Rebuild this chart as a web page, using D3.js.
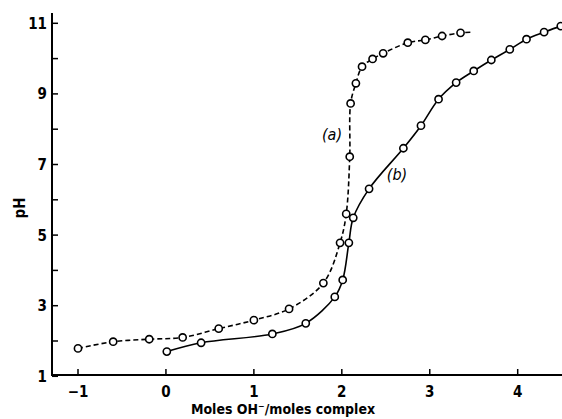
<!DOCTYPE html>
<html>
<head>
<meta charset="utf-8">
<script src="https://cdn.jsdelivr.net/npm/d3@7"></script>
<style>
  body { margin: 0; background: #fff; }
  svg { font-family: "DejaVu Sans Condensed", "DejaVu Sans", sans-serif; }
</style>
</head>
<body>
<div id="chart"></div>
<script>
// curve (a), dashed
const aX = [-1.00, -0.60, -0.19, 0.19, 0.60, 1.00, 1.40, 1.79, 1.98, 2.05, 2.09, 2.10, 2.16, 2.23, 2.35, 2.47, 2.75, 2.95, 3.14, 3.35];
const aY = [1.79, 1.98, 2.05, 2.10, 2.35, 2.59, 2.91, 3.64, 4.78, 5.60, 7.22, 8.73, 9.30, 9.77, 9.99, 10.15, 10.45, 10.53, 10.64, 10.73];
const aEnd = [3.48, 10.75];

// curve (b), solid
const bX = [0.01, 0.40, 1.21, 1.59, 1.92, 2.01, 2.08, 2.13, 2.31, 2.70, 2.90, 3.10, 3.30, 3.50, 3.70, 3.91, 4.10, 4.30, 4.49];
const bY = [1.70, 1.95, 2.20, 2.50, 3.25, 3.73, 4.78, 5.49, 6.31, 7.46, 8.10, 8.85, 9.32, 9.65, 9.96, 10.26, 10.55, 10.75, 10.92];
const bEnd = [4.60, 11.0];

const xTicks = [-1, 0, 1, 2, 3, 4];
const yMajor = [1, 3, 5, 7, 9, 11];
const yMinor = [2, 4, 6, 8, 10];

const width = 562, height = 419;

const svg = d3.select("#chart").append("svg")
  .attr("width", width)
  .attr("height", height);

const x = d3.scaleLinear().domain([-1, 4]).range([78, 517.7]);
const y = d3.scaleLinear().domain([1, 11]).range([376.3, 23.3]);

const axisY = 375, axisX = 52;

// axes lines
svg.append("line")
  .attr("x1", axisX).attr("x2", width)
  .attr("y1", axisY).attr("y2", axisY)
  .attr("stroke", "#000").attr("stroke-width", 2);
svg.append("line")
  .attr("x1", axisX).attr("x2", axisX)
  .attr("y1", 13).attr("y2", axisY + 1)
  .attr("stroke", "#000").attr("stroke-width", 2);

// x ticks (inward)
svg.selectAll(".xt").data(xTicks).enter().append("line")
  .attr("x1", d => x(d)).attr("x2", d => x(d))
  .attr("y1", axisY).attr("y2", axisY - 6)
  .attr("stroke", "#000").attr("stroke-width", 1.5);
svg.selectAll(".xl").data(xTicks).enter().append("text")
  .attr("x", d => x(d)).attr("y", 397)
  .attr("text-anchor", "middle")
  .attr("font-size", 15).attr("font-weight", "bold")
  .text(d => d < 0 ? "\u2212" + Math.abs(d) : d);

// y ticks
svg.selectAll(".yt").data(yMajor.concat(yMinor)).enter().append("line")
  .attr("x1", axisX).attr("x2", axisX + 6)
  .attr("y1", d => y(d)).attr("y2", d => y(d))
  .attr("stroke", "#000").attr("stroke-width", 1.5);
svg.selectAll(".yl").data(yMajor).enter().append("text")
  .attr("x", 47).attr("y", d => y(d) + 5.5)
  .attr("text-anchor", "end")
  .attr("font-size", 15).attr("font-weight", "bold")
  .text(d => d);

// axis titles
svg.append("text")
  .attr("transform", "translate(25,208) rotate(-90)")
  .attr("text-anchor", "middle")
  .attr("font-size", 15).attr("font-weight", "bold")
  .text("pH");
svg.append("text")
  .attr("x", 283).attr("y", 414)
  .attr("text-anchor", "middle")
  .attr("font-size", 14).attr("font-weight", "bold")
  .text("Moles OH\u207B/moles complex");

const line = d3.line()
  .x(d => x(d[0]))
  .y(d => y(d[1]))
  .curve(d3.curveCatmullRom.alpha(0.5));

const aPts = aX.map((v, i) => [v, aY[i]]);
const bPts = bX.map((v, i) => [v, bY[i]]);

svg.append("path")
  .attr("d", line(aPts.concat([aEnd])))
  .attr("fill", "none").attr("stroke", "#000")
  .attr("stroke-width", 1.6)
  .attr("stroke-dasharray", "5,3");

svg.append("path")
  .attr("d", line(bPts.concat([bEnd])))
  .attr("fill", "none").attr("stroke", "#000")
  .attr("stroke-width", 1.6);

svg.selectAll(".pa").data(aPts.concat(bPts)).enter().append("circle")
  .attr("cx", d => x(d[0])).attr("cy", d => y(d[1]))
  .attr("r", 3.6)
  .attr("fill", "#fff").attr("stroke", "#000").attr("stroke-width", 1.6);

// curve labels
svg.append("text")
  .attr("x", 332).attr("y", 140)
  .attr("text-anchor", "middle")
  .attr("font-size", 16).attr("font-style", "italic")
  .text("(a)");
svg.append("text")
  .attr("x", 397).attr("y", 180)
  .attr("text-anchor", "middle")
  .attr("font-size", 16).attr("font-style", "italic")
  .text("(b)");
</script>
</body>
</html>
